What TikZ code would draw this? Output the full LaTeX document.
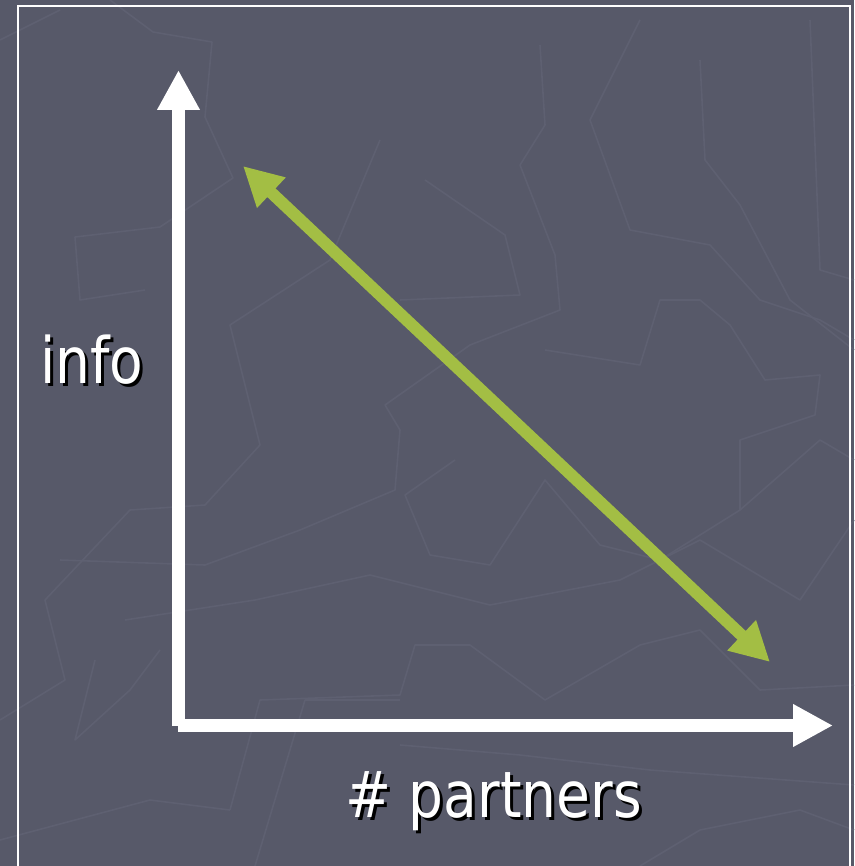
\documentclass[tikz,border=0pt]{standalone}
\usepackage{fontspec}
\setmainfont{DejaVu Sans}
\usetikzlibrary{arrows.meta}
\definecolor{bgc}{HTML}{575969}
\definecolor{texc}{HTML}{5E6071}
\definecolor{grn}{HTML}{A3BE44}
\tikzset{
  axis/.style={draw=white, line width=13pt, -{Triangle[length=40pt,width=40pt]}},
  dbl/.style={draw=grn, line width=12pt, {Triangle[length=39pt,width=39pt]}-{Triangle[length=39pt,width=39pt]}},
  tex/.style={draw=texc, line width=1.6pt, line join=round},
  lbl/.style={font=\fontsize{64}{72}\selectfont, inner sep=0pt, anchor=base west},
  frame/.style={draw=white, line width=1.6pt}
}
\newcommand{\sq}[1]{\scalebox{0.86}[1]{#1}}
\begin{document}
\begin{tikzpicture}[x=1pt,y=-1pt]
\useasboundingbox (0,0) rectangle (854,866);
\fill[bgc] (0,0) rectangle (854,866);
% texture
\draw[tex] (110,0) -- (153,32) -- (212,42) -- (205,117) -- (233,178) -- (160,227) -- (75,237) -- (80,300) -- (145,290);
\draw[tex] (380,140) -- (330,260) -- (230,325) -- (260,445) -- (205,505) -- (130,510) -- (45,600) -- (65,680) -- (0,720);
\draw[tex] (425,180) -- (505,235) -- (520,295) -- (400,300);
\draw[tex] (540,45) -- (545,125) -- (520,165) -- (555,255) -- (560,310) -- (470,345) -- (385,405) -- (400,430) -- (395,490) -- (300,530) -- (205,565) -- (60,560);
\draw[tex] (640,20) -- (590,120) -- (630,230) -- (710,245) -- (760,300) -- (820,320) -- (854,340);
\draw[tex] (700,60) -- (705,160) -- (740,205) -- (790,300) -- (854,350);
\draw[tex] (810,20) -- (820,270) -- (854,280);
\draw[tex] (545,350) -- (640,365) -- (660,300) -- (700,300) -- (730,325) -- (765,380) -- (820,375) -- (815,415) -- (740,440) -- (740,510) -- (660,560) -- (600,545) -- (545,480) -- (490,565) -- (430,555) -- (405,495) -- (455,460);
\draw[tex] (740,510) -- (820,440) -- (854,460);
\draw[tex] (95,660) -- (75,740) -- (130,690) -- (160,650);
\draw[tex] (125,620) -- (255,600) -- (370,575) -- (490,605) -- (620,580) -- (700,540) -- (800,600) -- (854,520);
\draw[tex] (230,810) -- (260,700) -- (400,695) -- (415,645) -- (470,645) -- (545,700) -- (640,645) -- (700,630) -- (760,690) -- (854,685);
\draw[tex] (255,866) -- (305,700) -- (400,700);
\draw[tex] (400,745) -- (520,755) -- (650,770) -- (854,785);
\draw[tex] (640,866) -- (700,830) -- (800,810) -- (854,830);
\draw[tex] (0,840) -- (150,800) -- (230,810);
\draw[tex] (0,40) -- (60,10);
% frame
\draw[frame] (18,880) -- (18,6) -- (850,6) -- (850,880);
% axes
\coordinate (origin) at (178.5,726);
\coordinate (ytip) at (178.5,70);
\coordinate (xstart) at (178,725.5);
\coordinate (xtip) at (833,725.5);
\draw[axis] (origin) -- (ytip);
\draw[axis] (xstart) -- (xtip);
% green arrow
\coordinate (ga) at (243,166);
\coordinate (gb) at (770,662);
\draw[dbl] (ga) -- (gb);
% labels
\node[lbl, text=black] (infos) at (43,386) {\sq{info}};
\node[lbl, text=white] (info) at (40,383) {\sq{info}};
\node[lbl, text=black] (partnerss) at (348,820) {\sq{\# partners}};
\node[lbl, text=white] (partners) at (345,817) {\sq{\# partners}};
\end{tikzpicture}
\end{document}
